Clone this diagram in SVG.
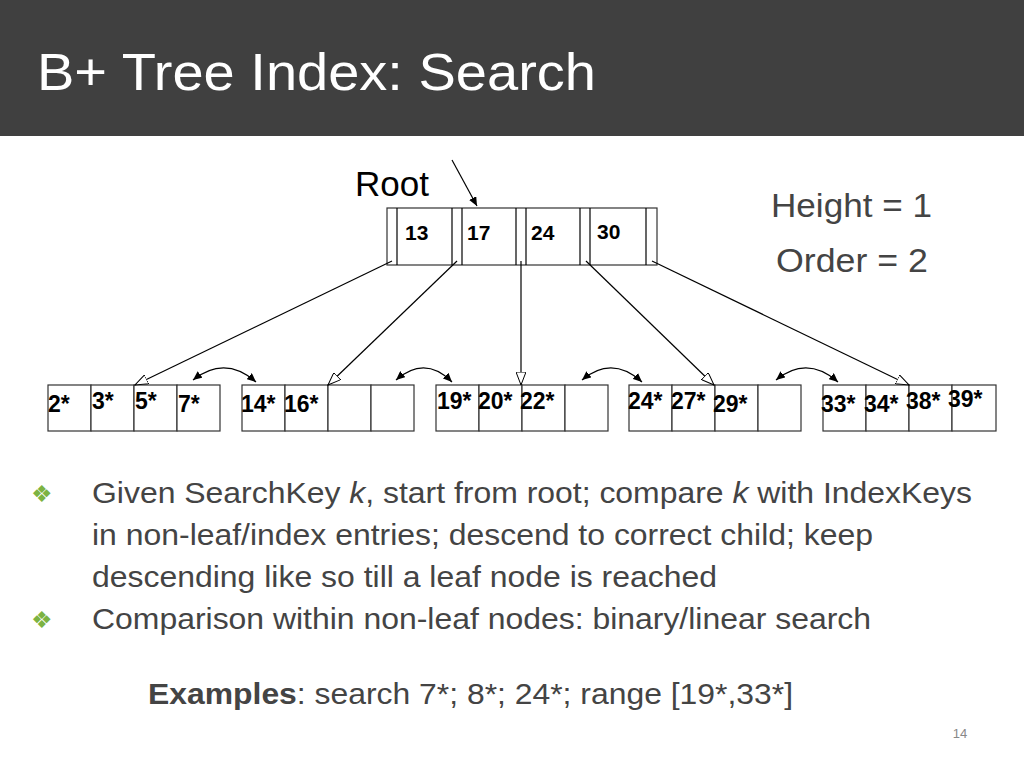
<svg xmlns="http://www.w3.org/2000/svg" width="1024" height="768" viewBox="0 0 1024 768">
<defs>
<style>
.c{fill:#fff;stroke:#333;stroke-width:1.2}
.k{font-family:"Liberation Sans",Arial,sans-serif;font-weight:bold;font-size:23px;fill:#000}
.r{font-family:"Liberation Sans",Arial,sans-serif;font-weight:bold;font-size:21px;fill:#000}
.t{font-family:"Liberation Sans",Arial,sans-serif;fill:#333}
.ln{stroke:#000;stroke-width:1.2;fill:none}
</style>
<marker id="oa" markerWidth="14" markerHeight="10" refX="13" refY="5" orient="auto" markerUnits="userSpaceOnUse"><path d="M0,0 L13,5 L0,10 Z" fill="#fff" stroke="#000" stroke-width="1"/></marker>
<marker id="fa" markerWidth="10" markerHeight="8" refX="9" refY="4" orient="auto" markerUnits="userSpaceOnUse"><path d="M0,0 L9,4 L0,8 Z" fill="#000"/></marker>
<marker id="fs" markerWidth="10" markerHeight="8" refX="1" refY="4" orient="auto" markerUnits="userSpaceOnUse"><path d="M10,0 L1,4 L10,8 Z" fill="#000"/></marker>
</defs>
<rect width="1024" height="768" fill="#fff"/>
<rect width="1024" height="136" fill="#404040"/>
<text x="37" y="90" class="t" font-size="52" textLength="559" lengthAdjust="spacingAndGlyphs" style="fill:#fff">B+ Tree Index: Search</text>
<text x="355" y="196" class="t" font-size="35" style="fill:#000">Root</text>
<text x="771" y="217" class="t" font-size="33" textLength="161" lengthAdjust="spacingAndGlyphs" style="fill:#444">Height = 1</text>
<text x="776" y="272" class="t" font-size="33" textLength="152" lengthAdjust="spacingAndGlyphs" style="fill:#444">Order = 2</text>
<g id="root">
<rect class="c" x="387" y="208" width="270" height="57"/>
<line class="ln" x1="397" y1="208" x2="397" y2="265"/><line class="ln" x1="452" y1="208" x2="452" y2="265"/>
<line class="ln" x1="462" y1="208" x2="462" y2="265"/><line class="ln" x1="516" y1="208" x2="516" y2="265"/>
<line class="ln" x1="526" y1="208" x2="526" y2="265"/><line class="ln" x1="580" y1="208" x2="580" y2="265"/>
<line class="ln" x1="590" y1="208" x2="590" y2="265"/><line class="ln" x1="646" y1="208" x2="646" y2="265"/>
<text class="r" x="405" y="240">13</text><text class="r" x="467" y="240">17</text><text class="r" x="531" y="240">24</text><text class="r" x="597" y="239">30</text>
</g>
<g id="leaf1"><rect class="c" x="48" y="385" width="43" height="46"/><rect class="c" x="91" y="385" width="43" height="46"/><rect class="c" x="134" y="385" width="43" height="46"/><rect class="c" x="177" y="385" width="43" height="46"/>
<text class="k" x="48" y="412">2*</text><text class="k" x="92" y="409">3*</text><text class="k" x="135" y="409">5*</text><text class="k" x="178" y="412">7*</text></g>
<g id="leaf2"><rect class="c" x="242" y="385" width="43" height="46"/><rect class="c" x="285" y="385" width="43" height="46"/><rect class="c" x="328" y="385" width="43" height="46"/><rect class="c" x="371" y="385" width="43" height="46"/>
<text class="k" x="241" y="412">14*</text><text class="k" x="284" y="412">16*</text></g>
<g id="leaf3"><rect class="c" x="436" y="385" width="43" height="46"/><rect class="c" x="479" y="385" width="43" height="46"/><rect class="c" x="522" y="385" width="43" height="46"/><rect class="c" x="565" y="385" width="43" height="46"/>
<text class="k" x="437" y="409">19*</text><text class="k" x="478" y="409">20*</text><text class="k" x="520" y="409">22*</text></g>
<g id="leaf4"><rect class="c" x="629" y="385" width="43" height="46"/><rect class="c" x="672" y="385" width="43" height="46"/><rect class="c" x="715" y="385" width="43" height="46"/><rect class="c" x="758" y="385" width="43" height="46"/>
<text class="k" x="628" y="409">24*</text><text class="k" x="671" y="409">27*</text><text class="k" x="713" y="412">29*</text></g>
<g id="leaf5"><rect class="c" x="823" y="385" width="43" height="46"/><rect class="c" x="866" y="385" width="43" height="46"/><rect class="c" x="909" y="385" width="43" height="46"/><rect class="c" x="952" y="385" width="44" height="46"/>
<text class="k" x="821" y="412">33*</text><text class="k" x="864" y="412">34*</text><text class="k" x="906" y="409">38*</text><text class="k" x="948" y="407">39*</text></g>
<g id="connectors">
<line class="ln" x1="452" y1="160" x2="477" y2="206" marker-end="url(#fa)"/>
<line class="ln" x1="392" y1="261" x2="135" y2="385" marker-end="url(#oa)"/>
<line class="ln" x1="457" y1="261" x2="328" y2="385" marker-end="url(#oa)"/>
<line class="ln" x1="521" y1="261" x2="521" y2="385" marker-end="url(#oa)"/>
<line class="ln" x1="586" y1="261" x2="714" y2="385" marker-end="url(#oa)"/>
<line class="ln" x1="652" y1="261" x2="909" y2="385" marker-end="url(#oa)"/>
<path class="ln" d="M193,380 Q225,355 256,382" marker-start="url(#fs)" marker-end="url(#fa)"/>
<path class="ln" d="M396,380 Q425,355 452,382" marker-start="url(#fs)" marker-end="url(#fa)"/>
<path class="ln" d="M582,380 Q612,355 642,382" marker-start="url(#fs)" marker-end="url(#fa)"/>
<path class="ln" d="M776,380 Q807,355 838,382" marker-start="url(#fs)" marker-end="url(#fa)"/>
</g>
<g class="t" font-size="30" style="fill:#444">
<text x="31" y="502" style="fill:#7cb342" font-size="24">❖</text>
<text x="92" y="503" textLength="880" lengthAdjust="spacingAndGlyphs">Given SearchKey <tspan font-style="italic">k</tspan>, start from root; compare <tspan font-style="italic">k</tspan> with IndexKeys</text>
<text x="92" y="545" textLength="781" lengthAdjust="spacingAndGlyphs">in non-leaf/index entries; descend to correct child; keep</text>
<text x="92" y="587" textLength="625" lengthAdjust="spacingAndGlyphs">descending like so till a leaf node is reached</text>
<text x="31" y="628" style="fill:#7cb342" font-size="24">❖</text>
<text x="92" y="629" textLength="779" lengthAdjust="spacingAndGlyphs">Comparison within non-leaf nodes: binary/linear search</text>
<text x="148" y="704" textLength="645" lengthAdjust="spacingAndGlyphs"><tspan font-weight="bold">Examples</tspan>: search 7*; 8*; 24*; range [19*,33*]</text>
</g>
<text x="960" y="738" class="t" font-size="13" text-anchor="middle" style="fill:#888">14</text>
</svg>
